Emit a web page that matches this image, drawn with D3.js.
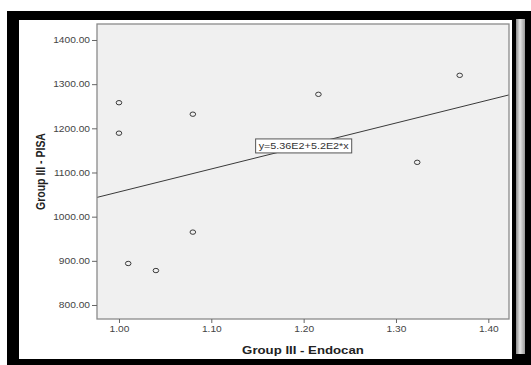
<!DOCTYPE html>
<html>
<head>
<meta charset="utf-8">
<script src="https://cdn.jsdelivr.net/npm/d3@7"></script>
<style>
body { margin: 0; background: #fff; }
svg { display: block; font-family: Arial, "Liberation Sans", sans-serif; }
</style>
</head>
<body>
<div class="content"></div>
<script>
// values
var endocan = [1.00, 1.00, 1.08, 1.01, 1.04, 1.08, 1.216, 1.369, 1.323];
var pisa = [1258, 1189, 1232, 894, 878, 965, 1277, 1320, 1123];
var xTicks = [1.00, 1.10, 1.20, 1.30, 1.40];
var yTicks = [800, 900, 1000, 1100, 1200, 1300, 1400];
var fitA = 536, fitB = 520;
var fitLabel = 'y=5.36E2+5.2E2*x';
var xTitle = 'Group III - Endocan';
var yTitle = 'Group III - PISA';

var W = 531, H = 365;
var plot = { left: 97, top: 24, right: 509, bottom: 319 };
var stretchK = 1.2; // source image is a bit wider than tall

var svg = d3.select('.content').append('svg')
    .attr('width', W)
    .attr('height', H);

// scanned page frame
svg.append('rect').attr('x', 0).attr('y', 0).attr('width', W).attr('height', H).attr('fill', '#fff');
svg.append('rect').attr('x', 7).attr('y', 11).attr('width', W - 7).attr('height', H - 11).attr('fill', '#000');
svg.append('rect').attr('x', 19).attr('y', 20).attr('width', 493).attr('height', 339).attr('fill', '#fff');

var grad = svg.append('defs').append('linearGradient').attr('id', 'strip');
grad.append('stop').attr('offset', '0%').attr('stop-color', '#8a8a8a');
grad.append('stop').attr('offset', '45%').attr('stop-color', '#e6e6e6');
grad.append('stop').attr('offset', '100%').attr('stop-color', '#9a9a9a');
svg.append('rect').attr('x', 516).attr('y', 19).attr('width', 9).attr('height', 335).attr('fill', 'url(#strip)');

var x = d3.scaleLinear()
    .domain([0.9762, 1.4224])
    .range([plot.left, plot.right]);

var y = d3.scaleLinear()
    .domain([768.3, 1436.2])
    .range([plot.bottom, plot.top]);

function stretch(sel, k) {
    sel.each(function() {
        var w = this.getComputedTextLength();
        this.setAttribute('textLength', w * k);
        this.setAttribute('lengthAdjust', 'spacingAndGlyphs');
    });
}

svg.append('rect')
    .attr('x', plot.left)
    .attr('y', plot.top)
    .attr('width', plot.right - plot.left)
    .attr('height', plot.bottom - plot.top)
    .attr('fill', '#f0f0f0');

svg.append('defs').append('clipPath').attr('id', 'clip')
    .append('rect')
    .attr('x', plot.left).attr('y', plot.top)
    .attr('width', plot.right - plot.left).attr('height', plot.bottom - plot.top);

// fit line
var xd = x.domain();
svg.append('line')
    .attr('clip-path', 'url(#clip)')
    .attr('x1', x(xd[0]))
    .attr('y1', y(fitA + fitB * xd[0]))
    .attr('x2', x(xd[1]))
    .attr('y2', y(fitA + fitB * xd[1]))
    .attr('stroke', '#3a3a3a')
    .attr('stroke-width', 1);

// points
svg.append('g').selectAll('ellipse')
    .data(endocan)
    .enter().append('ellipse')
    .attr('cx', function(d) { return x(d); })
    .attr('cy', function(d, i) { return y(pisa[i]); })
    .attr('rx', 2.8)
    .attr('ry', 2.2)
    .attr('fill', 'none')
    .attr('stroke', '#3a3a3a')
    .attr('stroke-width', 1);

// equation label
var lab = svg.append('g').attr('transform', 'translate(' + x(1.148) + ',' + y(1176) + ')');
var labBox = lab.append('rect')
    .attr('x', 0).attr('y', 0)
    .attr('height', 14)
    .attr('fill', '#fff')
    .attr('stroke', '#555')
    .attr('stroke-width', 1);
var labText = lab.append('text')
    .attr('x', 3)
    .attr('y', 10.5)
    .attr('font-size', '9px')
    .attr('fill', '#333')
    .text(fitLabel);
var labW = labText.node().getComputedTextLength() * stretchK;
stretch(labText, stretchK);
labBox.attr('width', labW + 6);

// frame
svg.append('rect')
    .attr('x', plot.left)
    .attr('y', plot.top)
    .attr('width', plot.right - plot.left)
    .attr('height', plot.bottom - plot.top)
    .attr('fill', 'none')
    .attr('stroke', '#8a8a8a')
    .attr('stroke-width', 1.3);

// axes
var gx = svg.append('g')
    .attr('transform', 'translate(0,' + plot.bottom + ')')
    .call(d3.axisBottom(x).tickValues(xTicks).tickFormat(d3.format('.2f')).tickSize(4).tickPadding(3));

var gy = svg.append('g')
    .attr('transform', 'translate(' + plot.left + ',0)')
    .call(d3.axisLeft(y).tickValues(yTicks).tickFormat(d3.format('.2f')).tickSize(5).tickPadding(2));

[gx, gy].forEach(function(g) {
    g.select('.domain').remove();
    g.selectAll('.tick line').attr('stroke', '#666');
    g.selectAll('.tick text')
        .attr('font-size', '8.5px')
        .attr('font-family', 'Arial, "Liberation Sans", sans-serif')
        .attr('fill', '#444');
    stretch(g.selectAll('.tick text'), stretchK);
});

// titles
var tx = svg.append('text')
    .attr('x', (plot.left + plot.right) / 2)
    .attr('y', 354)
    .attr('text-anchor', 'middle')
    .attr('font-size', '11px')
    .attr('font-weight', 'bold')
    .attr('fill', '#222')
    .text(xTitle);
stretch(tx, stretchK);

svg.append('text')
    .attr('transform', 'translate(45,' + (plot.top + plot.bottom) / 2 + ') rotate(-90) scale(1,' + stretchK + ')')
    .attr('text-anchor', 'middle')
    .attr('font-size', '10.5px')
    .attr('font-weight', 'bold')
    .attr('fill', '#222')
    .text(yTitle);
</script>
</body>
</html>
